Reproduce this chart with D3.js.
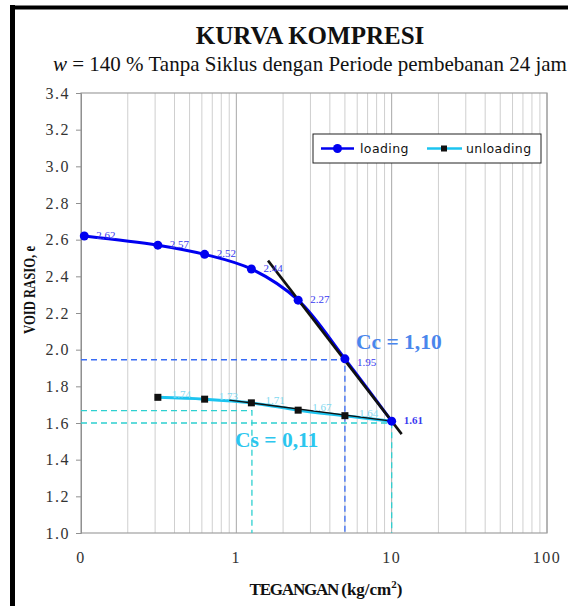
<!DOCTYPE html>
<html>
<head>
<meta charset="utf-8">
<script src="https://cdn.jsdelivr.net/npm/d3@7"></script>
<style>
  body { margin: 0; background: #fff; }
  svg { display: block; }
</style>
</head>
<body>
<div id="chart"></div>
<script>
// loading / unloading readings (load in kg/cm2, void ratio e)
const loadingStress = [0.105, 0.3125, 0.625, 1.25, 2.5, 5, 10];
const loadingVoid = [2.62, 2.57, 2.52, 2.44, 2.27, 1.95, 1.61];
const loadingLabels = ["2.62", "2.57", "2.52", "2.44", "2.27", "1.95", "1.61"];

const unloadingStress = [0.3125, 0.625, 1.25, 2.5, 5, 10];
const unloadingVoid = [1.74, 1.73, 1.71, 1.67, 1.64, 1.61];
const unloadingLabels = ["1.74", "1.73", "1.71", "1.67", "1.64", ""];

// tangent lines: anchor point, slope (index) and stress range
const ccAnchor = [10, 1.61];
const ccIndex = 1.10;
const ccRange = [1.6, 11.6];
const csAnchor = [10, 1.61];
const csIndex = 0.11;
const csRange = [0.9, 10];

// helper construction lines [stress, e]
const ccGuide = [5, 1.945];
const csGuides = [[1.26, 1.667], [10, 1.60]];

const xTicks = [0.1, 1, 10, 100];
const xTickLabels = ["0", "1", "10", "100"];
const yTicks = [1.0, 1.2, 1.4, 1.6, 1.8, 2.0, 2.2, 2.4, 2.6, 2.8, 3.0, 3.2, 3.4];

const width = 568, height = 606;
const plot = { left: 81, right: 547, top: 93, bottom: 533 };
const serif = "Liberation Serif, Times New Roman, serif";

const svg = d3.select("#chart").append("svg")
  .attr("width", width)
  .attr("height", height)
  .attr("font-family", serif);

// frame
svg.append("line").attr("x1", 12.5).attr("x2", 12.5).attr("y1", 5).attr("y2", height)
  .attr("stroke", "#000").attr("stroke-width", 5);
svg.append("line").attr("x1", 10).attr("x2", width).attr("y1", 7.5).attr("y2", 7.5)
  .attr("stroke", "#000").attr("stroke-width", 4);

const x = d3.scaleLog().domain([0.1, 100]).range([plot.left, plot.right]);
const y = d3.scaleLinear().domain([1.0, 3.4]).range([plot.bottom, plot.top]);

// vertical log gridlines
const minor = [];
for (let dec = 0.1; dec < 100; dec *= 10) {
  for (let k = 2; k <= 10; k++) minor.push(+(dec * k).toPrecision(3));
}
svg.append("g")
  .selectAll("line")
  .data(minor)
  .join("line")
  .attr("x1", (d) => x(d)).attr("x2", (d) => x(d))
  .attr("y1", plot.top).attr("y2", plot.bottom)
  .attr("stroke", (d) => (xTicks.includes(d) ? "#a8a8a8" : "#cfcfcf"))
  .attr("stroke-width", 1);

// plot border
svg.append("rect")
  .attr("x", plot.left).attr("y", plot.top)
  .attr("width", plot.right - plot.left).attr("height", plot.bottom - plot.top)
  .attr("fill", "none").attr("stroke", "#a0a0a0").attr("stroke-width", 1.2);

// y axis
const yAxis = svg.append("g")
  .attr("transform", `translate(${plot.left},0)`)
  .call(d3.axisLeft(y).tickValues(yTicks).tickFormat(d3.format(".1f")).tickSize(5).tickPadding(6));
yAxis.select(".domain").attr("stroke", "#909090");
yAxis.selectAll(".tick line").attr("stroke", "#909090");
yAxis.selectAll("text")
  .attr("font-family", serif).attr("font-size", 16).attr("letter-spacing", 1.5)
  .attr("fill", "#333");

// x tick labels
svg.append("g")
  .selectAll("text")
  .data(xTicks)
  .join("text")
  .attr("x", (d) => x(d))
  .attr("y", 563)
  .attr("text-anchor", "middle")
  .attr("font-size", 16)
  .attr("letter-spacing", 1.5)
  .attr("fill", "#333")
  .text((d, i) => xTickLabels[i]);

// guide dashed lines
const guides = svg.append("g").attr("fill", "none").attr("stroke-dasharray", "6,4").attr("stroke-width", 1.3);
guides.append("path")
  .attr("stroke", "#3a6cf4")
  .attr("d", `M${x(0.1)},${y(ccGuide[1])}H${x(ccGuide[0])}V${y(1.0)}`);
csGuides.forEach(([s, e]) => {
  guides.append("path")
    .attr("stroke", "#2ed0d0")
    .attr("d", `M${x(0.1)},${y(e)}H${x(s)}V${y(1.0)}`);
});

const line = d3.line()
  .x((d) => x(d[0]))
  .y((d) => y(d[1]))
  .curve(d3.curveCatmullRom.alpha(0.5));

const unloadingData = unloadingStress.map((s, i) => [s, unloadingVoid[i]]);
const loadingData = loadingStress.map((s, i) => [s, loadingVoid[i]]);

svg.append("path")
  .datum(unloadingData)
  .attr("d", line)
  .attr("fill", "none")
  .attr("stroke", "#1cc4f0")
  .attr("stroke-width", 3);

const tangent = (anchor, index, range) =>
  range.map((s) => [s, anchor[1] - index * Math.log10(s / anchor[0])]);

svg.append("path")
  .datum(tangent(csAnchor, csIndex, csRange))
  .attr("d", d3.line().x((d) => x(d[0])).y((d) => y(d[1])))
  .attr("stroke", "#111").attr("stroke-width", 1.4);

svg.append("path")
  .datum(loadingData)
  .attr("d", line)
  .attr("fill", "none")
  .attr("stroke", "#0000f0")
  .attr("stroke-width", 3);

svg.append("path")
  .datum(tangent(ccAnchor, ccIndex, ccRange))
  .attr("d", d3.line().x((d) => x(d[0])).y((d) => y(d[1])))
  .attr("stroke", "#111").attr("stroke-width", 2.6);

// markers
svg.append("g")
  .selectAll("rect")
  .data(unloadingData.slice(0, -1))
  .join("rect")
  .attr("x", (d) => x(d[0]) - 3.5)
  .attr("y", (d) => y(d[1]) - 3.5)
  .attr("width", 7).attr("height", 7)
  .attr("fill", "#111");

svg.append("g")
  .selectAll("circle")
  .data(loadingData)
  .join("circle")
  .attr("cx", (d) => x(d[0]))
  .attr("cy", (d) => y(d[1]))
  .attr("r", 4.5)
  .attr("fill", "#0000f0");

// data labels
svg.append("g")
  .selectAll("text")
  .data(loadingData)
  .join("text")
  .attr("x", (d) => x(d[0]) + 12)
  .attr("y", (d, i) => y(d[1]) + (i === 5 ? 7 : 3))
  .attr("font-size", 11)
  .attr("font-weight", (d, i) => (i === loadingData.length - 1 ? "bold" : null))
  .attr("fill", "#3a3af0")
  .text((d, i) => loadingLabels[i]);

svg.append("g")
  .selectAll("text")
  .data(unloadingData)
  .join("text")
  .attr("x", (d) => x(d[0]) + 14)
  .attr("y", (d) => y(d[1]) + 1)
  .attr("font-size", 11)
  .attr("fill", "#7fd8f0")
  .text((d, i) => unloadingLabels[i]);

// index annotations
svg.append("text")
  .attr("x", 356).attr("y", 349)
  .attr("font-size", 21.5).attr("font-weight", "bold")
  .attr("fill", "#4a86ec")
  .text("Cc = 1,10");
svg.append("text")
  .attr("x", 235).attr("y", 447)
  .attr("font-size", 21.5).attr("font-weight", "bold")
  .attr("fill", "#2cc6ee")
  .text("Cs = 0,11");

// legend
const sans = "DejaVu Sans, Verdana, sans-serif";
const legend = svg.append("g").attr("transform", "translate(313,134)");
legend.append("rect")
  .attr("width", 228).attr("height", 29)
  .attr("fill", "#fff").attr("stroke", "#222").attr("stroke-width", 1);
legend.append("line").attr("x1", 8).attr("x2", 41).attr("y1", 14.5).attr("y2", 14.5)
  .attr("stroke", "#0000f0").attr("stroke-width", 2.5);
legend.append("circle").attr("cx", 24.5).attr("cy", 14.5).attr("r", 4.5).attr("fill", "#0000f0");
legend.append("text").attr("x", 47).attr("y", 19)
  .attr("font-family", sans).attr("font-size", 12.5).attr("letter-spacing", 0.4)
  .attr("fill", "#111").text("loading");
legend.append("line").attr("x1", 114).attr("x2", 149).attr("y1", 14.5).attr("y2", 14.5)
  .attr("stroke", "#1cc4f0").attr("stroke-width", 2.5);
legend.append("rect").attr("x", 128).attr("y", 11.5).attr("width", 6).attr("height", 6).attr("fill", "#111");
legend.append("text").attr("x", 153).attr("y", 19)
  .attr("font-family", sans).attr("font-size", 12.5).attr("letter-spacing", 0.4)
  .attr("fill", "#111").text("unloading");

// titles
svg.append("text")
  .attr("x", 310).attr("y", 44)
  .attr("text-anchor", "middle")
  .attr("font-size", 25).attr("font-weight", "bold")
  .attr("fill", "#111")
  .text("KURVA KOMPRESI");

const sub = svg.append("text")
  .attr("x", 53).attr("y", 71)
  .attr("font-size", 21)
  .attr("fill", "#111");
sub.append("tspan").attr("font-style", "italic").text("w");
sub.append("tspan").text(" = 140 % Tanpa Siklus dengan Periode pembebanan 24 jam");

const xt = svg.append("text")
  .attr("x", 326).attr("y", 595)
  .attr("text-anchor", "middle")
  .attr("font-size", 17).attr("font-weight", "bold")
  .attr("fill", "#111");
xt.append("tspan").attr("letter-spacing", -1.2).text("TEGANGAN ");
xt.append("tspan").text("(kg/cm");
xt.append("tspan").attr("font-size", 11).attr("dy", -7).text("2");
xt.append("tspan").attr("dy", 7).text(")");

svg.append("text")
  .attr("transform", "translate(35,290) rotate(-90)")
  .attr("text-anchor", "middle")
  .attr("font-size", 16).attr("font-weight", "bold")
  .attr("textLength", 88).attr("lengthAdjust", "spacingAndGlyphs")
  .attr("fill", "#111")
  .text("VOID RASIO, e");
</script>
</body>
</html>
